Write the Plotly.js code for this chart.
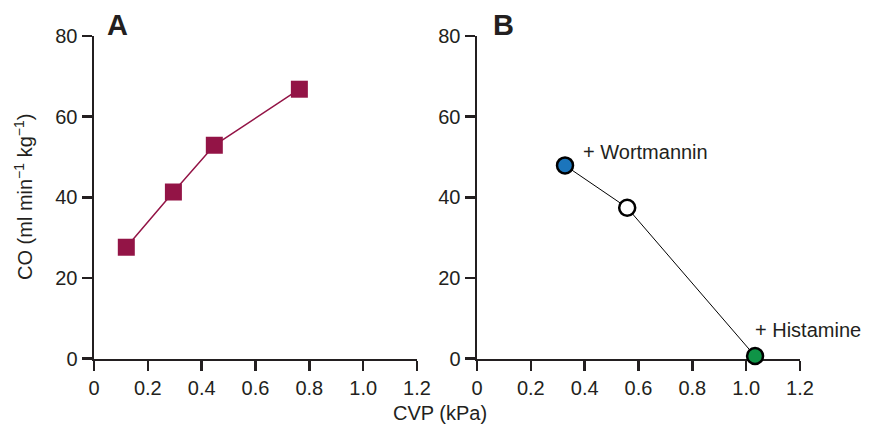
<!DOCTYPE html>
<html>
<head>
<meta charset="utf-8">
<script src="https://cdn.plot.ly/plotly-3.0.1.min.js"></script>
<style>html,body{margin:0;padding:0;background:#fff;}#chart{width:869px;height:424px;}</style>
</head>
<body>
<div id="chart"></div>
<script>
// Panel A data
const cvpA = [0.12, 0.295, 0.447, 0.763];
const coA = [27.6, 41.3, 52.9, 66.8];
// Panel B data
const cvpB = [0.327, 0.558, 1.033];
const coB = [47.9, 37.4, 0.6];
const colorsB = ['#1b75bc', '#ffffff', '#0f9447'];
const labelsB = ['+ Wortmannin', '', '+ Histamine'];
const xTicks = [0, 0.2, 0.4, 0.6, 0.8, 1.0, 1.2];
const xTickText = ['0', '0.2', '0.4', '0.6', '0.8', '1.0', '1.2'];
const yTicks = [0, 20, 40, 60, 80];

const ink = '#231f20';
const fontFam = 'Liberation Sans, Arial, sans-serif';

const traces = [
  {x: cvpA, y: coA, xaxis: 'x', yaxis: 'y', mode: 'lines+markers', cliponaxis: false,
   line: {color: '#931446', width: 1.5},
   marker: {symbol: 'square', size: 17, color: '#931446'}},
  {x: cvpB, y: coB, xaxis: 'x2', yaxis: 'y2', mode: 'lines+markers', cliponaxis: false,
   line: {color: '#000000', width: 1},
   marker: {symbol: 'circle', size: 16, color: colorsB, line: {color: '#000000', width: 2.5}}}
];

function xax(domain, anchor) {
  return {domain: domain, anchor: anchor, range: [0, 1.2], tickvals: xTicks, ticktext: xTickText,
    showline: true, linecolor: ink, linewidth: 2.5, ticks: 'outside', ticklen: 10, tickwidth: 2.5,
    tickcolor: ink, showgrid: false, zeroline: false, layer: 'below traces',
    tickfont: {family: fontFam, size: 20, color: ink}, fixedrange: true};
}
function yax(domain, anchor) {
  return {domain: domain, anchor: anchor, range: [0, 80], tickvals: yTicks,
    showline: true, linecolor: ink, linewidth: 2.5, ticks: 'outside', ticklen: 10, tickwidth: 2.5,
    tickcolor: ink, showgrid: false, zeroline: false, layer: 'below traces',
    tickfont: {family: fontFam, size: 20, color: ink}, fixedrange: true};
}

const yDom = [1 - 358.5 / 424, 1 - 36 / 424];
const annotations = [
  {text: '<b>A</b>', xref: 'paper', yref: 'paper', x: 105 / 869, y: 1 - 25 / 424, xanchor: 'left', yanchor: 'middle',
   showarrow: false, font: {family: fontFam, size: 29, color: ink}},
  {text: '<b>B</b>', xref: 'paper', yref: 'paper', x: 491 / 869, y: 1 - 25 / 424, xanchor: 'left', yanchor: 'middle',
   showarrow: false, font: {family: fontFam, size: 29, color: ink}},
  {text: 'CO (ml min<sup>−1</sup> kg<sup>−1</sup>)', xref: 'paper', yref: 'paper', x: 24 / 869, y: 1 - 197 / 424,
   xanchor: 'center', yanchor: 'middle', textangle: -90, showarrow: false,
   font: {family: fontFam, size: 20, color: ink}},
  {text: 'CVP (kPa)', xref: 'paper', yref: 'paper', x: 440 / 869, y: 1 - 413 / 424,
   xanchor: 'center', yanchor: 'middle', showarrow: false, font: {family: fontFam, size: 20, color: ink}}
];
labelsB.forEach((t, i) => {
  if (!t) return;
  annotations.push({text: t, xref: 'x2', yref: 'y2', x: cvpB[i], y: coB[i], xanchor: 'left', yanchor: 'middle',
    xshift: i === 0 ? 16 : -2, yshift: i === 0 ? 13 : 26, showarrow: false,
    font: {family: fontFam, size: 20, color: ink}});
});

const layout = {
  width: 869, height: 424, margin: {l: 0, r: 0, t: 0, b: 0},
  paper_bgcolor: '#ffffff', plot_bgcolor: '#ffffff', showlegend: false,
  xaxis: xax([94 / 869, 417 / 869], 'y'),
  yaxis: yax(yDom, 'x'),
  xaxis2: xax([477 / 869, 800 / 869], 'y2'),
  yaxis2: yax(yDom, 'x2'),
  annotations: annotations
};

Plotly.newPlot('chart', traces, layout, {displayModeBar: false, staticPlot: true});
</script>
</body>
</html>
